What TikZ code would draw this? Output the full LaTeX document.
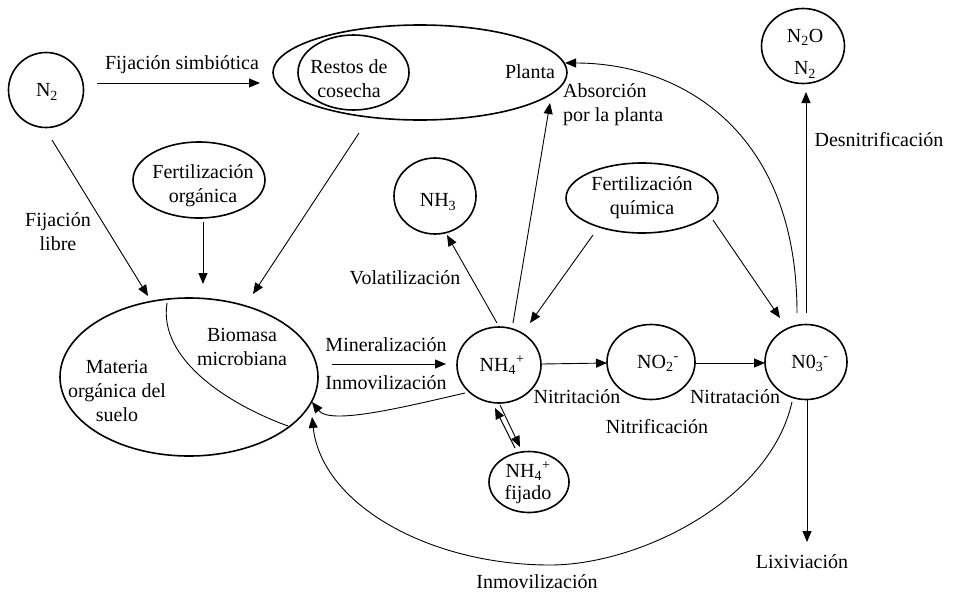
\documentclass[tikz,border=0pt]{standalone}
\usepackage{fontspec}
\setmainfont{Liberation Serif}
\usetikzlibrary{shapes.geometric,arrows.meta}
\begin{document}
\begin{tikzpicture}[x=1pt,y=-1pt,
  pool/.style={draw, line width=1.6pt, ellipse, inner sep=0pt},
  flow/.style={line width=0.9pt, -{Triangle[length=11pt,width=9pt]}},
  link/.style={line width=0.9pt},
  txt/.style={inner sep=0pt, align=center},
  every node/.append style={font=\fontsize{20}{24}\selectfont}]
\useasboundingbox (0,0) rectangle (953,592);

% pools of nitrogen
\node[pool, minimum width=75, minimum height=75] (n2) at (46,90) {};
\node[pool, minimum width=294, minimum height=95] (planta) at (420,72.5) {};
\node[pool, minimum width=111, minimum height=75] (restos) at (353.5,72.5) {};
\node[pool, minimum width=83, minimum height=75] (n2o) at (803,46) {};
\node[pool, minimum width=132, minimum height=76] (fo) at (199,180) {};
\node[pool, minimum width=82, minimum height=76] (nh3) at (435,196) {};
\node[pool, minimum width=152, minimum height=70] (fq) at (642,198) {};
\node[pool, minimum width=258, minimum height=158] (materia) at (189,377) {};
\node[pool, minimum width=84, minimum height=76] (nh4) at (499,365) {};
\node[pool, minimum width=88, minimum height=75] (no2) at (651,362) {};
\node[pool, minimum width=82, minimum height=75] (no3) at (806,362) {};
\node[pool, minimum width=80, minimum height=61] (fij) at (529,482) {};

% texts inside the pools
\node[txt] at (47,92) {N\textsubscript{2}};
\node[txt] at (349,79) {Restos de\\cosecha};
\node[txt] at (530,72) {Planta};
\node[txt] at (805,37) {N\textsubscript{2}O};
\node[txt] at (805,70) {N\textsubscript{2}};
\node[txt] at (203,186) {Fertilización\\orgánica};
\node[txt] at (438,202) {NH\textsubscript{3}};
\node[txt] at (642,197.5) {Fertilización\\química};
\node[txt] at (242,347) {Biomasa\\microbiana};
\node[txt] at (117,391) {Materia\\orgánica del\\suelo};
\node[txt] at (502,365) {NH\textsubscript{4}\textsuperscript{+}};
\node[txt] at (658,363) {NO\textsubscript{2}\textsuperscript{-}};
\node[txt] at (810,363) {N0\textsubscript{3}\textsuperscript{-}};
\node[txt] at (528,482.5) {NH\textsubscript{4}\textsuperscript{+}\\[-2pt]fijado};

% process labels
\node[txt] at (182,65) {Fijación simbiótica};
\node[txt] at (58,232) {Fijación\\libre};
\node[txt, align=left, anchor=west] at (563,104.5) {Absorción\\por la planta};
\node[txt] at (879,140) {Desnitrificación};
\node[txt] at (405,278) {Volatilización};
\node[txt] at (386,345) {Mineralización};
\node[txt] at (386,383) {Inmovilización};
\node[txt] at (577,397) {Nitritación};
\node[txt] at (735,397) {Nitratación};
\node[txt] at (657,427) {Nitrificación};
\node[txt] (lix) at (802,562) {Lixiviación};
\node[txt] at (537,582) {Inmovilización};

% inner boundary between organic matter and microbial biomass
\draw[link] ([shift={(-22,-74)}]materia.center)
  .. controls +(-9,57) and +(-58,-21) .. ([shift={(99,49)}]materia.center);

% fluxes
\draw[flow] ([shift={(51,-7)}]n2.center) -- ([shift={(-160,10.5)}]planta.center);
\draw[flow] ([shift={(6,50)}]n2.center) -- ([shift={(-41,-81)}]materia.center);
\draw[flow] ([shift={(4,42)}]fo.center) -- ([shift={(14,-93)}]materia.center);
\draw[flow] ([shift={(-61,60.5)}]planta.center) -- ([shift={(64,-83)}]materia.center);
\draw[flow] ([shift={(143,-13)}]materia.center) -- ([shift={(-53,-1)}]nh4.center);
\draw[flow] ([shift={(-34,28)}]nh4.center)
  .. controls +(-65,15) and +(18,23) .. ([shift={(123,25)}]materia.center);
\draw[flow] ([shift={(-2,-42)}]nh4.center) -- ([shift={(12,39)}]nh3.center);
\draw[flow] ([shift={(14,-42)}]nh4.center) -- ([shift={(130,30.5)}]planta.center);
\draw[flow] ([shift={(-49,37)}]fq.center) -- ([shift={(31,-42)}]nh4.center);
\draw[flow] ([shift={(71,22)}]fq.center) -- ([shift={(-26,-44)}]no3.center);
\draw[flow] ([shift={(-9,-49)}]no3.center)
  .. controls +(0,-183) and +(115,0) .. ([shift={(145,-9.5)}]planta.center);
\draw[flow] ([shift={(0,-49)}]no3.center) -- ([shift={(3,46)}]n2o.center);
\draw[flow] ([shift={(43,-1)}]nh4.center) -- ([shift={(-44,1)}]no2.center);
\draw[flow] ([shift={(44,1)}]no2.center) -- ([shift={(-41,1)}]no3.center);
\draw[flow] ([shift={(1,40)}]nh4.center) -- ([shift={(-9,-35)}]fij.center);
\draw[flow] ([shift={(-14,-34)}]fij.center) -- ([shift={(-4,43)}]nh4.center);
\draw[flow] ([shift={(1,37)}]no3.center) -- ([shift={(5,-20)}]lix.center);
\coordinate (inmbot) at (550,565);
\draw[flow] ([shift={(-14,40)}]no3.center)
  .. controls +(-22,98) and +(90,0) .. (inmbot)
  .. controls +(-120,0) and +(10,88) .. ([shift={(123,40)}]materia.center);
\end{tikzpicture}
\end{document}
